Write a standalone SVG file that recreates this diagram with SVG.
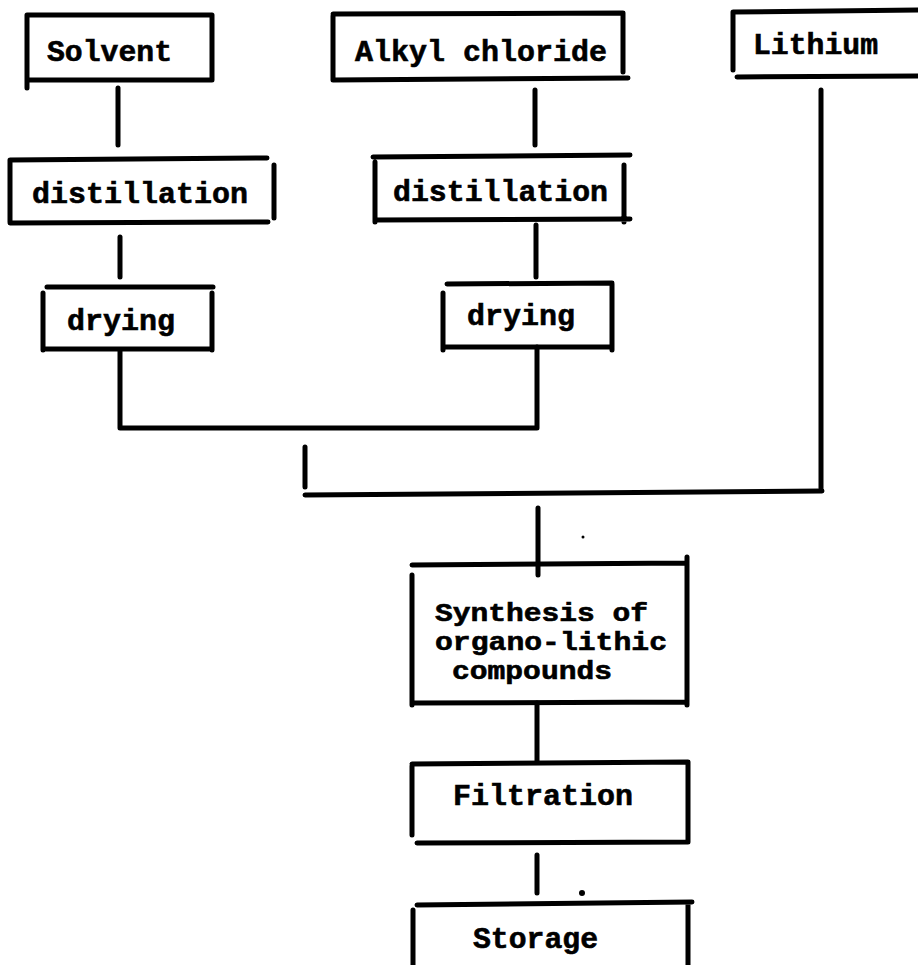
<svg xmlns="http://www.w3.org/2000/svg" width="918" height="965" viewBox="0 0 918 965">
<style>
  .b { stroke:#000; stroke-width:5; stroke-linecap:round; fill:none; }
  .c { stroke:#000; stroke-width:5; stroke-linecap:round; stroke-linejoin:round; fill:none; }
  text { font-family:"Liberation Mono","DejaVu Sans Mono",monospace; font-weight:bold; font-size:29px; fill:#000; stroke:#000; stroke-width:0.6; }
  .s { font-size:25px; }
</style>
<rect width="918" height="965" fill="#fff"/>
<g id="connectors">
  <path class="c" d="M118 88 V145"/>
  <path class="c" d="M120 237 V277"/>
  <path class="c" d="M535 90 V145"/>
  <path class="c" d="M536 225 V277"/>
  <path class="c" d="M120 350 V428 H537 V347"/>
  <path class="c" d="M305 447 V487"/>
  <path class="c" d="M305 495 L822 491"/>
  <path class="c" d="M821 90 V488"/>
  <path class="c" d="M538 508 V575"/>
  <path class="c" d="M537 703 V762"/>
  <path class="c" d="M537 855 V893"/>
  <circle cx="583" cy="537" r="1.5" fill="#000"/>
  <circle cx="582" cy="893" r="3" fill="#000"/>
</g>
<g id="solvent">
  <path class="b" d="M27 15 H212 M27 15 V88 M27 80 H212 M212 15 V80"/>
  <text x="47" y="61" textLength="125" lengthAdjust="spacingAndGlyphs">Solvent</text>
</g>
<g id="alkyl-chloride">
  <path class="b" d="M333 14 L623 13 M333 16 V80 M333 80 L628 78 M623 13 V72"/>
  <text x="355" y="61" textLength="252" lengthAdjust="spacingAndGlyphs">Alkyl chloride</text>
</g>
<g id="lithium">
  <path class="b" d="M733 12 L918 10 M733 12 V70 M737 77 L918 76"/>
  <text x="753" y="54" textLength="125" lengthAdjust="spacingAndGlyphs">Lithium</text>
</g>
<g id="distillation-1">
  <path class="b" d="M10 160 L267 158 M10 160 V222 M10 223 L268 222 M274 165 V218"/>
  <text x="32" y="203" textLength="216" lengthAdjust="spacingAndGlyphs">distillation</text>
</g>
<g id="distillation-2">
  <path class="b" d="M373 157 L630 155 M375 162 V222 M375 220 L630 219 M624 165 V222"/>
  <text x="393" y="201" textLength="215" lengthAdjust="spacingAndGlyphs">distillation</text>
</g>
<g id="drying-1">
  <path class="b" d="M47 287 H213 M43 293 V350 M212 293 V350 M43 349 H212"/>
  <text x="67" y="330" textLength="108" lengthAdjust="spacingAndGlyphs">drying</text>
</g>
<g id="drying-2">
  <path class="b" d="M447 284 L612 283 M443 293 V350 M612 284 V350 M443 347 H612"/>
  <text x="467" y="325" textLength="108" lengthAdjust="spacingAndGlyphs">drying</text>
</g>
<g id="synthesis">
  <path class="b" d="M412 565 L687 563 M412 575 V705 M412 703 L687 702 M687 557 V705"/>
  <text class="s" x="435" y="621" textLength="213" lengthAdjust="spacingAndGlyphs">Synthesis of</text>
  <text class="s" x="435" y="650" textLength="232" lengthAdjust="spacingAndGlyphs">organo-lithic</text>
  <text class="s" x="452" y="679" textLength="160" lengthAdjust="spacingAndGlyphs">compounds</text>
</g>
<g id="filtration">
  <path class="b" d="M412 764 L688 762 M412 766 V835 M417 843 L688 842 M688 762 V842"/>
  <text x="453" y="805" textLength="180" lengthAdjust="spacingAndGlyphs">Filtration</text>
</g>
<g id="storage">
  <path class="b" d="M417 905 L692 902 M413 910 V965 M688 903 V965"/>
  <text x="473" y="948" textLength="125" lengthAdjust="spacingAndGlyphs">Storage</text>
</g>
</svg>
